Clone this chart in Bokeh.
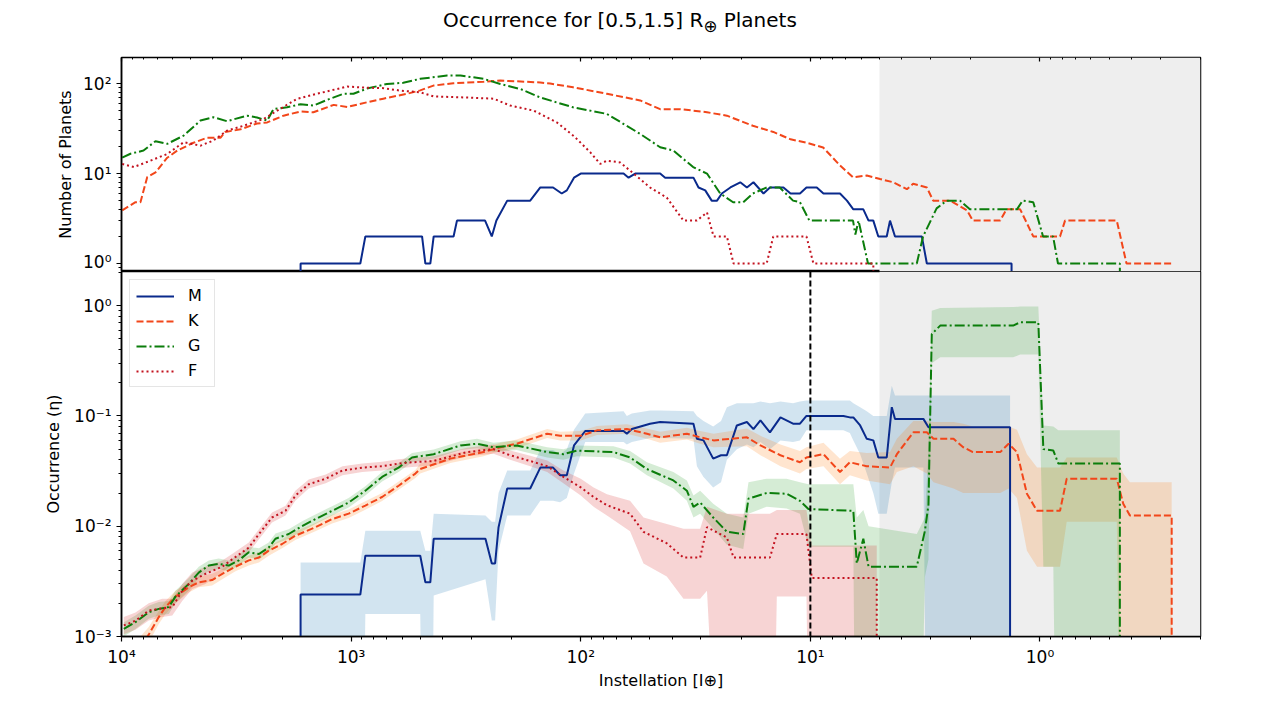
import numpy as np
from bokeh.plotting import figure
from bokeh.layouts import column
from bokeh.models import (Range1d, LogAxis, FixedTicker, BoxAnnotation, Span, Legend, Div)
from bokeh.embed import file_html
from bokeh.resources import INLINE

# ---- top panel: number of planets vs instellation ----
m_top_inst = [1660, 1660, 912, 867, 491, 475, 452, 437, 358, 346, 261, 244, 233, 209, 166,
              150, 132, 121, 115, 107, 100, 65.1, 61.9, 57.9, 45.1, 42.9, 32.3, 30.7, 28.7, 26.9,
              25.5, 24.3, 22.3, 20.2, 18.9, 17.7, 16.0, 15.0, 13.1, 12.2, 11.1, 10.4, 9.38, 8.77, 7.43,
              6.93, 6.5, 5.88, 5.58, 5.32, 5.06, 4.65, 4.5, 4.28, 3.27, 3.11, 1.33, 1.33]
m_top_n = [0, 1, 1, 2, 2, 1, 1, 2, 2, 3, 3, 2, 3, 5, 5,
           7, 7, 6, 6.5, 9, 10, 10, 9, 10, 10, 9, 9, 7, 6.5, 5,
           5, 6, 7, 8, 7, 8, 6, 7, 7, 6, 6, 7, 7, 6, 6,
           5, 4, 4, 3, 3, 2, 2, 3, 2, 2, 1, 1, 0]

k_top_inst = [9930, 8690, 8270, 7730, 7110, 6320, 5720, 4860, 4240, 3710, 3530, 3030, 2570, 2320, 1970,
              1660, 1460, 1190, 1040, 853, 724, 571, 500, 438, 359, 265, 224, 150, 136, 108,
              76.9, 55.1, 45.1, 36.9, 28.2, 23.1, 17.8, 14.5, 12.2, 10.4, 8.8, 7.43, 6.52, 5.68, 4.97,
              4.36, 3.80, 3.57, 3.11, 2.92, 2.46, 2.08, 1.96, 1.49, 1.40, 1.22, 1.07, 0.818, 0.778, 0.463,
              0.420, 0.267]
k_top_n = [3.9, 4.8, 4.8, 9.1, 10.3, 15, 18, 22, 25, 25, 29, 31, 36, 37, 44,
           49, 48, 58, 55, 62, 68, 77, 84, 95, 101, 105, 108, 103, 100, 91,
           77, 65, 52, 52, 48, 44, 34, 29, 24, 22, 19.5, 12.3, 9.1, 9.5, 8.7,
           8, 6.7, 7.7, 7, 5, 5, 3.9, 3, 3, 4, 4, 2, 2, 3, 3,
           1, 1]

g_top_inst = [9930, 9140, 8020, 7110, 6320, 5360, 4530, 3980, 3470, 2840, 2570, 2320, 2180, 1900, 1660,
              1460, 1270, 1080, 977, 853, 698, 593, 500, 382, 334, 265, 224, 183, 150, 108,
              76.9, 55.1, 45.1, 39.5, 32.4, 28.2, 24.7, 21.7, 19.6, 17.8, 15.5, 13.6, 11.9, 11.1, 10.1,
              6.52, 6.37, 6.17, 5.61, 3.44, 3.23, 2.82, 2.55, 2.23, 2.02, 1.26, 1.19, 1.07, 0.97, 0.877,
              0.835, 0.449, 0.449]
g_top_n = [15, 16.6, 18, 22.9, 21.4, 26.4, 38.8, 42.3, 38.2, 44, 42, 38.8, 52, 54.5, 59,
           57, 66, 77, 77, 88, 99, 102, 113, 123, 123, 113, 99, 87, 70, 54.5,
           46, 27.6, 19.6, 18, 11.8, 10, 6, 4.8, 4.8, 6, 7, 7, 5, 4.8, 3,
           3, 2.1, 3, 1, 1, 2, 4.1, 5, 5, 4, 4, 5, 4.8, 2, 2,
           1, 1, 0]

f_top_inst = [9930, 8840, 7480, 6320, 5360, 4530, 3980, 3470, 2940, 2400, 2100, 1720, 1410, 1040, 853,
              724, 611, 500, 437, 313, 240, 203, 160, 127, 107, 91, 82.3, 76.9, 67.3, 58.9,
              49.9, 42.2, 35.7, 31.2, 28.2, 26.4, 23.1, 21.6, 15.5, 14.5, 10.4, 9.7, 5.32, 5.2]
f_top_n = [12.8, 11.8, 13.9, 16.5, 22.3, 20.4, 23.3, 30, 34, 40.5, 50, 67.6, 77, 92.6, 90,
           89, 83.6, 80, 72, 70, 68, 57, 50, 37, 26, 17.3, 12.8, 13.9, 13.3, 10,
           7, 5.4, 3, 3, 3.7, 2, 2, 1, 1, 2, 2, 1, 1, 0]

# ---- bottom panel: occurrence with lower / upper bounds ----
m_inst = [1660, 1660, 912, 867, 500, 475, 452, 437, 260, 244, 236, 228, 209, 166, 150,
          132, 123, 115, 107, 95.6, 65.1, 63, 59.9, 49.9, 45.1, 32.3, 31.2, 29.2, 26.5, 24.5,
          23.1, 20.9, 18.9, 17.7, 16.5, 15.0, 13.5, 11.9, 11.1, 10.4, 7.18, 6.73, 6.5, 6.07, 5.68,
          5.32, 5.06, 4.65, 4.42, 4.28, 3.22, 3.06, 1.35, 1.35]
m_eta = [0, 2.4e-3, 2.4e-3, 5.4e-3, 5.4e-3, 3.1e-3, 3.1e-3, 7.7e-3, 7.7e-3, 4.6e-3, 4.6e-3, 9.8e-3, 2.2e-2, 2.2e-2, 3.4e-2,
         3.4e-2, 2.9e-2, 2.9e-2, 5.4e-2, 7.3e-2, 7.3e-2, 6.9e-2, 7.6e-2, 8.5e-2, 8.8e-2, 8.5e-2, 6.2e-2, 6.0e-2, 4.1e-2, 4.4e-2,
         4.4e-2, 8.2e-2, 8.8e-2, 7.6e-2, 9.1e-2, 7.1e-2, 9.7e-2, 8.5e-2, 8.5e-2, 0.1, 0.1, 9.7e-2, 9.7e-2, 8.2e-2, 6.2e-2,
         6.0e-2, 4.2e-2, 4.2e-2, 0.12, 9.4e-2, 9.4e-2, 7.9e-2, 7.9e-2, 0]
m_lo = [0, 0, 0, 1.6e-3, 1.6e-3, 0, 0, 2.35e-3, 3.3e-3, 1.4e-3, 1.4e-3, 6e-3, 1.25e-2, 1.25e-2, 1.7e-2,
        1.7e-2, 1.65e-2, 1.8e-2, 3.0e-2, 5.8e-2, 5.8e-2, 5.5e-2, 5.8e-2, 6.3e-2, 6.3e-2, 6.2e-2, 3.5e-2, 2.8e-2, 2.25e-2, 2.5e-2,
        4.0e-2, 5.0e-2, 5.5e-2, 5.2e-2, 5.8e-2, 5.0e-2, 6.0e-2, 5.8e-2, 6.0e-2, 7.4e-2, 7.4e-2, 7.0e-2, 6.0e-2, 4.5e-2, 3.0e-2,
        2.0e-2, 1.3e-2, 1.3e-2, 2.5e-2, 3.4e-2, 3.4e-2, 0, 0, 0]
m_hi = [0, 4.7e-3, 4.7e-3, 9.1e-3, 9.1e-3, 6.0e-3, 6.0e-3, 1.3e-2, 1.25e-2, 1.1e-2, 1.1e-2, 2.0e-2, 3.2e-2, 3.2e-2, 4.9e-2,
        4.9e-2, 4.5e-2, 5.0e-2, 7.5e-2, 0.105, 0.11, 0.1, 0.105, 0.112, 0.112, 0.11, 0.1, 9.0e-2, 8.0e-2, 9.0e-2,
        0.12, 0.13, 0.13, 0.13, 0.135, 0.13, 0.135, 0.13, 0.135, 0.138, 0.138, 0.138, 0.13, 0.12, 0.11,
        0.1, 0.1, 0.1, 0.188, 0.153, 0.153, 0.153, 0.153, 0]

k_inst = [8270, 7610, 6882, 6433, 5821, 5094, 4609, 4030, 3640, 3190, 2790, 2520, 2285, 1998, 1750,
          1431, 1210, 1025, 867, 733, 621, 525, 500, 370, 265, 224, 190, 140, 123, 100,
          85, 63, 51.5, 45.1, 34.5, 30.2, 26.4, 18.9, 16.5, 13.5, 11.1, 10.4, 8.77, 7.43, 6.73,
          5.68, 4.5, 4.2, 3.56, 3.11, 2.91, 2.38, 2.16, 1.96, 1.49, 1.37, 1.26, 1.14, 1.03, 0.818,
          0.765, 0.463, 0.434, 0.406, 0.267, 0.267]
k_eta = [8e-4, 1.04e-3, 1.5e-3, 1.85e-3, 2.3e-3, 2.8e-3, 3.1e-3, 3.25e-3, 3.7e-3, 4.3e-3, 4.9e-3, 5.2e-3, 6.0e-3, 6.9e-3, 8.2e-3,
         9.8e-3, 1.16e-2, 1.3e-2, 1.54e-2, 1.84e-2, 2.33e-2, 3.0e-2, 3.3e-2, 4.1e-2, 4.7e-2, 5.2e-2, 5.6e-2, 6.9e-2, 6.6e-2, 6.6e-2,
         7.4e-2, 7.6e-2, 6.9e-2, 6.4e-2, 6.9e-2, 6.4e-2, 6.0e-2, 6.4e-2, 5.4e-2, 4.4e-2, 3.8e-2, 4.2e-2, 4.5e-2, 3.1e-2, 3.8e-2,
         3.5e-2, 3.4e-2, 4.5e-2, 7.1e-2, 7.1e-2, 6.2e-2, 6.2e-2, 5.2e-2, 4.7e-2, 4.7e-2, 5.6e-2, 4.7e-2, 1.97e-2, 1.38e-2, 1.38e-2,
         2.7e-2, 2.7e-2, 1.6e-2, 1.25e-2, 1.25e-2, 0]
k_lo = [6e-4, 8.8e-4, 1.3e-3, 1.6e-3, 2.0e-3, 2.5e-3, 2.8e-3, 2.9e-3, 3.3e-3, 3.9e-3, 4.4e-3, 4.7e-3, 5.4e-3, 6.3e-3, 7.5e-3,
        9.0e-3, 1.06e-2, 1.19e-2, 1.41e-2, 1.69e-2, 2.14e-2, 2.74e-2, 3.0e-2, 3.75e-2, 4.3e-2, 4.8e-2, 5.1e-2, 6.3e-2, 6.0e-2, 6.0e-2,
        6.7e-2, 6.9e-2, 6.2e-2, 5.7e-2, 6.1e-2, 5.6e-2, 5.2e-2, 5.3e-2, 4.4e-2, 3.5e-2, 3.0e-2, 3.3e-2, 3.5e-2, 2.4e-2, 2.9e-2,
        2.6e-2, 2.4e-2, 3.1e-2, 3.5e-2, 3.0e-2, 2.5e-2, 2.2e-2, 2.0e-2, 2.0e-2, 2.0e-2, 2.2e-2, 1.8e-2, 6e-3, 4.3e-3, 4.3e-3,
        1.1e-2, 1.1e-2, 0, 0, 0, 0]
k_hi = [1.0e-3, 1.22e-3, 1.7e-3, 2.1e-3, 2.6e-3, 3.1e-3, 3.5e-3, 3.7e-3, 4.1e-3, 4.8e-3, 5.4e-3, 5.8e-3, 6.6e-3, 7.6e-3, 9.0e-3,
        1.07e-2, 1.27e-2, 1.42e-2, 1.68e-2, 2.0e-2, 2.54e-2, 3.23e-2, 3.7e-2, 4.5e-2, 5.1e-2, 5.7e-2, 6.1e-2, 7.6e-2, 7.2e-2, 7.3e-2,
        8.1e-2, 8.4e-2, 7.7e-2, 7.2e-2, 7.8e-2, 7.3e-2, 6.9e-2, 7.7e-2, 6.6e-2, 5.5e-2, 4.8e-2, 5.2e-2, 5.7e-2, 4.1e-2, 4.8e-2,
        4.6e-2, 4.7e-2, 6.2e-2, 9.0e-2, 9.0e-2, 8.8e-2, 8.8e-2, 8.5e-2, 8.0e-2, 8.0e-2, 8.0e-2, 7.5e-2, 4.5e-2, 3.4e-2, 3.4e-2,
        4.2e-2, 4.2e-2, 3.0e-2, 2.5e-2, 2.5e-2, 0]

g_inst = [9770, 8690, 7610, 6882, 6226, 5821, 5094, 4609, 4169, 3772, 3412, 3086, 2790, 2520, 2285,
          2136, 1870, 1635, 1431, 1210, 1025, 867, 733, 621, 543, 437, 334, 283, 240, 190,
          140, 119, 104, 72, 61, 51.5, 39.5, 34.5, 32.3, 30.2, 26.5, 23.1, 19.6, 18.6, 15.5,
          12.7, 11.1, 10.2, 6.5, 6.28, 5.88, 5.58, 3.44, 3.17, 3.06, 2.96, 2.72, 1.31, 1.22, 1.017,
          0.967, 0.875, 0.832, 0.449, 0.449]
g_eta = [1.17e-3, 1.35e-3, 1.66e-3, 1.78e-3, 1.85e-3, 2.3e-3, 3.0e-3, 3.8e-3, 4.4e-3, 4.55e-3, 4.4e-3, 4.9e-3, 5.8e-3, 5.6e-3, 6.4e-3,
         7.7e-3, 8.5e-3, 1.0e-2, 1.16e-2, 1.38e-2, 1.64e-2, 2.1e-2, 2.8e-2, 3.4e-2, 4.2e-2, 4.5e-2, 5.4e-2, 5.6e-2, 5.2e-2, 5.4e-2,
         4.7e-2, 4.5e-2, 4.85e-2, 4.7e-2, 4.2e-2, 3.3e-2, 2.6e-2, 2.1e-2, 1.5e-2, 1.64e-2, 1.2e-2, 8.9e-3, 8.5e-3, 1.78e-2, 2.0e-2,
         1.97e-2, 1.7e-2, 1.43e-2, 1.38e-2, 4.6e-3, 7.7e-3, 4.3e-3, 4.3e-3, 9.1e-3, 1.57e-2, 0.553, 0.659, 0.659, 0.706, 0.706,
         5.0e-2, 4.85e-2, 3.7e-2, 3.7e-2, 0]
g_lo = [1.0e-3, 1.17e-3, 1.45e-3, 1.55e-3, 1.6e-3, 2.0e-3, 2.6e-3, 3.4e-3, 3.9e-3, 4.1e-3, 3.9e-3, 4.4e-3, 5.2e-3, 5.0e-3, 5.8e-3,
        6.9e-3, 7.7e-3, 9.0e-3, 1.05e-2, 1.25e-2, 1.48e-2, 1.9e-2, 2.55e-2, 3.1e-2, 3.8e-2, 4.1e-2, 4.9e-2, 5.1e-2, 4.7e-2, 4.9e-2,
        4.2e-2, 4.0e-2, 4.3e-2, 4.2e-2, 3.7e-2, 2.9e-2, 2.2e-2, 1.7e-2, 1.2e-2, 1.3e-2, 9.5e-3, 6.8e-3, 6.2e-3, 1.3e-2, 1.5e-2,
        1.45e-2, 1.3e-2, 6.5e-3, 6.5e-3, 0, 0, 0, 0, 3.5e-3, 5e-3, 0.3, 0.34, 0.34, 0.36, 0.36,
        4.3e-3, 4.3e-3, 0, 0, 0]
g_hi = [1.35e-3, 1.55e-3, 1.9e-3, 2.05e-3, 2.1e-3, 2.6e-3, 3.4e-3, 4.3e-3, 4.9e-3, 5.1e-3, 4.9e-3, 5.5e-3, 6.5e-3, 6.3e-3, 7.1e-3,
        8.6e-3, 9.4e-3, 1.11e-2, 1.28e-2, 1.52e-2, 1.8e-2, 2.3e-2, 3.1e-2, 3.75e-2, 4.6e-2, 4.95e-2, 5.9e-2, 6.2e-2, 5.7e-2, 6.0e-2,
        5.2e-2, 5.0e-2, 5.4e-2, 5.3e-2, 4.8e-2, 3.8e-2, 3.1e-2, 2.6e-2, 1.9e-2, 2.1e-2, 1.6e-2, 1.3e-2, 1.2e-2, 2.5e-2, 2.7e-2,
        2.7e-2, 2.5e-2, 2.4e-2, 2.4e-2, 1.2e-2, 1.4e-2, 1.0e-2, 8.5e-3, 1.2e-2, 5e-2, 0.9, 0.95, 0.97, 0.98, 0.98,
        8.2e-2, 8.0e-2, 7.4e-2, 7.4e-2, 0]

f_inst = [9770, 8690, 7610, 6650, 6010, 5440, 4920, 4310, 3640, 3300, 2790, 2520, 2210, 1930, 1750,
          1530, 1290, 1090, 895, 733, 621, 543, 438, 313, 240, 203, 166, 140, 119, 100,
          87.9, 76.9, 61, 53.3, 42.2, 35.7, 30.2, 28.2, 23.1, 21.6, 15.0, 14.0, 10.4, 9.86, 6.28,
          5.14, 5.14]
f_eta = [1.26e-3, 1.39e-3, 1.72e-3, 1.8e-3, 1.85e-3, 2.6e-3, 3.2e-3, 3.7e-3, 4.3e-3, 5.0e-3, 6.4e-3, 8.5e-3, 1.2e-2, 1.38e-2, 1.89e-2,
         2.4e-2, 2.7e-2, 3.2e-2, 3.4e-2, 3.5e-2, 3.7e-2, 3.8e-2, 3.9e-2, 4.7e-2, 5.0e-2, 4.4e-2, 3.9e-2, 3.5e-2, 2.8e-2, 2.25e-2,
         1.84e-2, 1.55e-2, 1.3e-2, 8.9e-3, 7.0e-3, 5.2e-3, 5.2e-3, 9.8e-3, 7.9e-3, 5.2e-3, 5.2e-3, 8.5e-3, 8.5e-3, 3.4e-3, 3.4e-3,
         3.4e-3, 0]
f_lo = [1.05e-3, 1.15e-3, 1.4e-3, 1.5e-3, 1.55e-3, 2.1e-3, 2.7e-3, 3.0e-3, 3.8e-3, 4.5e-3, 5.8e-3, 7.6e-3, 1.08e-2, 1.25e-2, 1.7e-2,
        2.2e-2, 2.45e-2, 2.9e-2, 3.1e-2, 3.2e-2, 3.35e-2, 3.45e-2, 3.55e-2, 4.3e-2, 4.55e-2, 4.0e-2, 3.5e-2, 3.1e-2, 2.45e-2, 1.9e-2,
        1.5e-2, 1.25e-2, 9e-3, 4.6e-3, 3.5e-3, 2.2e-3, 2.2e-3, 2.6e-3, 0, 0, 0, 2.3e-3, 2.3e-3, 0, 0,
        0, 0]
f_hi = [1.5e-3, 1.65e-3, 2.0e-3, 2.2e-3, 2.2e-3, 3.0e-3, 3.8e-3, 4.3e-3, 4.9e-3, 5.6e-3, 7.1e-3, 9.4e-3, 1.33e-2, 1.53e-2, 2.1e-2,
        2.65e-2, 2.95e-2, 3.5e-2, 3.7e-2, 3.85e-2, 4.05e-2, 4.15e-2, 4.3e-2, 5.15e-2, 5.5e-2, 4.85e-2, 4.35e-2, 3.95e-2, 3.2e-2, 2.7e-2,
        2.25e-2, 1.95e-2, 1.7e-2, 1.2e-2, 1.05e-2, 9.5e-3, 9.5e-3, 1.5e-2, 1.3e-2, 1.3e-2, 1.3e-2, 1.4e-2, 1.4e-2, 6.7e-3, 6.7e-3,
        6.7e-3, 0]

x_major = [1e4, 1e3, 1e2, 1e1, 1e0]
top_y_major = [1, 10, 100]
bot_y_major = [1e-3, 1e-2, 1e-1, 1]
hz_edge = 5          # start of the grey region
eta_marker = 10      # dashed vertical line

M_COLOR = "#0a2a8c"
K_COLOR = "#f2461a"
G_COLOR = "#0b7d0b"
F_COLOR = "#c3121f"
FONT = "DejaVu Sans"
SUP = {"-": "\u207b", "0": "\u2070", "1": "\u00b9", "2": "\u00b2", "3": "\u00b3",
       "4": "\u2074", "5": "\u2075", "6": "\u2076", "7": "\u2077", "8": "\u2078", "9": "\u2079"}


def pos(v):
    # zero counts / rates sit below a log axis
    return np.clip(np.array(v, dtype=float), 1e-6, None)


def minor(e0, e1):
    return [m * 10.0 ** e for e in range(e0, e1) for m in range(2, 10)]


def decade_labels(ticks):
    return {t: "10" + "".join(SUP[c] for c in str(int(round(np.log10(t))))) for t in ticks}


def style_axis(ax, ticks, minors):
    ax.ticker = FixedTicker(ticks=ticks, minor_ticks=minors)
    ax.major_label_overrides = decade_labels(ticks)
    ax.axis_line_width = 1.5
    ax.major_tick_line_width = 1.2
    ax.minor_tick_line_width = 1
    ax.major_tick_out = 5
    ax.major_tick_in = 0
    ax.minor_tick_out = 3
    ax.minor_tick_in = 0
    ax.major_label_text_font = FONT
    ax.major_label_text_font_size = "17px"
    ax.major_label_text_color = "black"
    ax.axis_label_text_font = FONT
    ax.axis_label_text_font_size = "16px"
    ax.axis_label_text_font_style = "normal"
    ax.axis_label_text_color = "black"


x_range = Range1d(1e4, 0.2)

# ---------------- title ----------------
title = Div(text="Occurrence for [0.5,1.5] R<sub>\u2295</sub> Planets",
            width=1273, height=40, margin=0,
            styles={"font-family": FONT, "font-size": "20px", "color": "black",
                    "line-height": "40px", "padding-left": "443px", "white-space": "nowrap"})

# ---------------- top ----------------
top = figure(width=1273, height=231, x_range=x_range, y_range=Range1d(0.815, 195),
             x_axis_type="log", y_axis_type="log", x_axis_location=None,
             output_backend="svg", toolbar_location=None,
             min_border_left=121, min_border_right=73, min_border_top=17, min_border_bottom=0)
top.grid.visible = False
top.outline_line_color = "black"
top.outline_line_width = 1.5

top.yaxis.axis_label = "Number of Planets"
style_axis(top.yaxis[0], top_y_major, [0.9] + minor(0, 2))

top_ticks = LogAxis(ticker=FixedTicker(ticks=x_major, minor_ticks=minor(-1, 4)),
                    major_label_text_color=None, major_label_text_font_size="2px",
                    major_label_standoff=0, axis_line_color=None,
                    major_tick_in=4, major_tick_out=0, minor_tick_in=2, minor_tick_out=0,
                    major_tick_line_width=1.2)
top.add_layout(top_ticks, "above")

top.add_layout(BoxAnnotation(left=hz_edge, right=0.2, fill_color="#eeeeee", fill_alpha=1,
                             line_color=None, level="underlay"))

top.line(m_top_inst, pos(m_top_n), line_color=M_COLOR, line_width=2)
top.line(k_top_inst, pos(k_top_n), line_color=K_COLOR, line_width=2, line_dash="7 3")
top.line(g_top_inst, pos(g_top_n), line_color=G_COLOR, line_width=2, line_dash="10 3 2 3")
top.line(f_top_inst, pos(f_top_n), line_color=F_COLOR, line_width=2, line_dash="2 3")

# ---------------- bottom ----------------
bot = figure(width=1273, height=429, x_range=x_range, y_range=Range1d(1e-3, 2.04),
             x_axis_type="log", y_axis_type="log",
             output_backend="svg", toolbar_location=None,
             min_border_left=121, min_border_right=73, min_border_top=0, min_border_bottom=64)
bot.grid.visible = False
bot.outline_line_color = "black"
bot.outline_line_width = 1.5

bot.xaxis.axis_label = "Instellation [I\u2295]"
style_axis(bot.xaxis[0], x_major, minor(-1, 4))
bot.xaxis.axis_label_standoff = 1
bot.yaxis.axis_label = "Occurrence (\u03b7)"
style_axis(bot.yaxis[0], bot_y_major, minor(-3, 1))
bot.yaxis.axis_label_standoff = 8

bot.add_layout(BoxAnnotation(left=hz_edge, right=0.2, fill_color="#eeeeee", fill_alpha=1,
                             line_color=None, level="underlay"))

bot.varea(x=m_inst, y1=pos(m_lo), y2=pos(m_hi), fill_color="#1f77b4", fill_alpha=0.2)
bot.varea(x=k_inst, y1=pos(k_lo), y2=pos(k_hi), fill_color="#ff7f0e", fill_alpha=0.2)
bot.varea(x=g_inst, y1=pos(g_lo), y2=pos(g_hi), fill_color="#2ca02c", fill_alpha=0.2)
bot.varea(x=f_inst, y1=pos(f_lo), y2=pos(f_hi), fill_color="#d62728", fill_alpha=0.2)

m_r = bot.line(m_inst, pos(m_eta), line_color=M_COLOR, line_width=2)
k_r = bot.line(k_inst, pos(k_eta), line_color=K_COLOR, line_width=2, line_dash="7 3")
g_r = bot.line(g_inst, pos(g_eta), line_color=G_COLOR, line_width=2, line_dash="10 3 2 3")
f_r = bot.line(f_inst, pos(f_eta), line_color=F_COLOR, line_width=2, line_dash="2 3")

bot.add_layout(Span(location=eta_marker, dimension="height", line_color="black",
                    line_width=2, line_dash="6 3"))

legend = Legend(items=[("M", [m_r]), ("K", [k_r]), ("G", [g_r]), ("F", [f_r])],
                location="top_left", margin=8, padding=6, spacing=6,
                glyph_width=38, glyph_height=18, label_standoff=14,
                label_text_font=FONT, label_text_font_size="16px", label_text_color="black",
                border_line_color="#cccccc", border_line_width=1,
                background_fill_color="white", background_fill_alpha=0.85)
bot.add_layout(legend)

layout = column(title, top, bot, spacing=0)
open("out.html", "w").write(file_html(layout, INLINE))
